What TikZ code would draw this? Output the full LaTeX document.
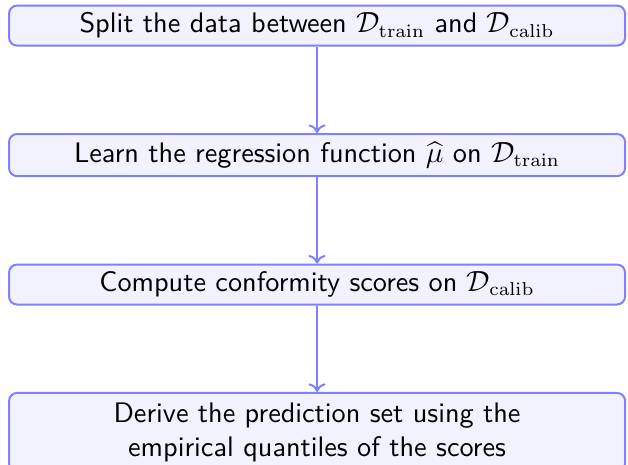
\documentclass[tikz,border=0pt]{standalone}
\usepackage{amsmath}
\usepackage{amssymb}
\usetikzlibrary{arrows.meta}
\usetikzlibrary{positioning}
\colorlet{stepline}{blue!50}
\colorlet{stepfill}{blue!5}

\begin{document}
\begin{tikzpicture}[->,>={To[length=3.2pt,width=6.4pt]},line width=0.75pt,node distance=32.4pt,
    font=\sffamily\fontsize{10.6pt}{12.8pt}\selectfont,
    stage node/.style={rectangle,rounded corners=3pt,draw=stepline,fill=stepfill,
      minimum width=231pt,minimum height=15pt,inner sep=0pt,align=center,text=black}]
  \clip (0,0) rectangle (235.5pt,-174pt);
  \useasboundingbox (0,0) rectangle (235.5pt,-174pt);
  \node[stage node] (split) at (118.9pt,-9.6pt) {Split the data between $\mathcal{D}_{\mathrm{train}}$ and $\mathcal{D}_{\mathrm{calib}}$};
  \node[stage node,minimum height=15.8pt,below=of split] (learn) {Learn the regression function $\widehat{\mu}$ on $\mathcal{D}_{\mathrm{train}}$};
  \node[stage node,below=of learn] (score) {Compute conformity scores on $\mathcal{D}_{\mathrm{calib}}$};
  \node[stage node,minimum height=29.5pt,below=of score] (derive) {Derive the prediction set using the\\empirical quantiles of the scores};
  % arrows between the stages
  \path[draw=stepline] (split) edge (learn);
  \path[draw=stepline] (learn) edge (score);
  \path[draw=stepline] (score) edge (derive);
\end{tikzpicture}
\end{document}
